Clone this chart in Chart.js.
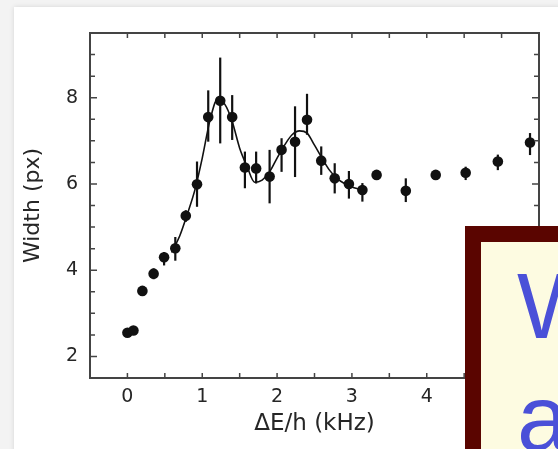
<!DOCTYPE html>
<html>
<head>
<meta charset="utf-8">
<script src="https://cdn.jsdelivr.net/npm/chart.js@4/dist/chart.umd.min.js"></script>
<style>
  html, body { margin: 0; padding: 0; }
  body { width: 558px; height: 449px; background: #f3f3f3; position: relative; overflow: hidden; }
  #panel { position: absolute; left: 14px; top: 7px; width: 600px; height: 500px; background: #fff;
           box-shadow: 0 0 5px rgba(0,0,0,0.12); }
  #c { position: absolute; left: 0; top: 0; filter: blur(0.45px); }
  #box { position: absolute; left: 465px; top: 226px; width: 200px; height: 300px;
         border: 16px solid #5a0500; background: #fdfbe1; overflow: hidden; box-sizing: content-box; }
  #box div { font-family: "Liberation Sans", Arial, sans-serif; font-size: 93px; line-height: 112px;
             color: #4a50d8; padding: 8px 0 0 36px; white-space: pre; }
</style>
</head>
<body>
<div id="panel"></div>
<canvas id="c" width="558" height="449"></canvas>
<div id="box"><div>W
a</div></div>
<script>
// ---- data ----
const energies = [0.0, 0.08, 0.2, 0.35, 0.49, 0.64, 0.78, 0.93, 1.08, 1.24, 1.40, 1.57, 1.72, 1.90, 2.06, 2.24, 2.40, 2.59, 2.77, 2.96, 3.14, 3.33, 3.72, 4.12, 4.52, 4.95, 5.38];
const widths   = [2.55, 2.6, 3.52, 3.92, 4.30, 4.51, 5.26, 5.99, 7.55, 7.93, 7.55, 6.38, 6.36, 6.17, 6.79, 6.98, 7.49, 6.54, 6.13, 6.0, 5.86, 6.21, 5.84, 6.21, 6.26, 6.52, 6.96];
const errUp    = [0, 0, 0, 0.12, 0.12, 0.26, 0.13, 0.53, 0.62, 1.0, 0.51, 0.37, 0.39, 0.62, 0.27, 0.82, 0.6, 0.33, 0.35, 0.3, 0.16, 0, 0.29, 0, 0.14, 0.16, 0.22];
const errDown  = [0, 0, 0, 0.13, 0.19, 0.29, 0.14, 0.52, 0.57, 0.99, 0.53, 0.48, 0.35, 0.62, 0.51, 0.82, 0.35, 0.33, 0.35, 0.34, 0.27, 0, 0.26, 0, 0.17, 0.2, 0.29];
const fitX = [0.59, 0.7, 0.8, 0.9, 1.0, 1.1, 1.2, 1.3, 1.4, 1.5, 1.6, 1.7, 1.8, 1.9, 2.0, 2.1, 2.2, 2.3, 2.4, 2.5, 2.6, 2.7, 2.8, 2.9, 3.0, 3.1];
const fitY = [4.41, 4.8, 5.3, 5.85, 6.6, 7.45, 7.95, 7.85, 7.45, 6.83, 6.4, 6.04, 6.09, 6.28, 6.6, 6.9, 7.14, 7.23, 7.18, 6.9, 6.6, 6.32, 6.13, 6.01, 5.93, 5.88];
const xTickLabels = [0, 1, 2, 3, 4, 5];
const yTickLabels = [2, 4, 6, 8];
const xTitle = 'ΔE/h (kHz)';
const yTitle = 'Width (px)';

const ink = '#111';
const textCol = '#262626';

const framePlugin = {
  id: 'frame',
  beforeDatasetsDraw(chart) {
    const ctx = chart.ctx;
    const xs = chart.scales.x, ys = chart.scales.y;
    ctx.save();
    ctx.strokeStyle = ink; ctx.lineWidth = 2.2;
    energies.forEach((e, i) => {
      if (!errUp[i] && !errDown[i]) return;
      const px = xs.getPixelForValue(e);
      ctx.beginPath();
      ctx.moveTo(px, ys.getPixelForValue(widths[i] + errUp[i]));
      ctx.lineTo(px, ys.getPixelForValue(widths[i] - errDown[i]));
      ctx.stroke();
    });
    ctx.restore();
  },
  afterDraw(chart) {
    const ctx = chart.ctx, a = chart.chartArea;
    const xs = chart.scales.x, ys = chart.scales.y;
    ctx.save();
    ctx.strokeStyle = '#444';
    ctx.lineWidth = 2;
    ctx.strokeRect(a.left, a.top, a.right - a.left, a.bottom - a.top);
    ctx.lineWidth = 1.5;
    xs.ticks.forEach(t => {
      const px = xs.getPixelForValue(t.value);
      if (px <= a.left + 1 || px >= a.right - 1) return;
      const L = 5;
      ctx.beginPath();
      ctx.moveTo(px, a.bottom); ctx.lineTo(px, a.bottom - L);
      ctx.moveTo(px, a.top); ctx.lineTo(px, a.top + L);
      ctx.stroke();
    });
    ys.ticks.forEach(t => {
      const py = ys.getPixelForValue(t.value);
      if (py <= a.top + 1 || py >= a.bottom - 1) return;
      const L = yTickLabels.includes(t.value) ? 7 : 5;
      ctx.beginPath();
      ctx.moveTo(a.left, py); ctx.lineTo(a.left + L, py);
      ctx.moveTo(a.right, py); ctx.lineTo(a.right - L, py);
      ctx.stroke();
    });
    ctx.restore();
  }
};

new Chart(document.getElementById('c'), {
  type: 'scatter',
  data: {
    datasets: [
      {
        type: 'line',
        data: fitX.map((x, i) => ({ x, y: fitY[i] })),
        borderColor: ink, borderWidth: 1.6, pointRadius: 0, cubicInterpolationMode: 'monotone', fill: false
      },
      {
        data: energies.map((x, i) => ({ x, y: widths[i] })),
        backgroundColor: ink, borderColor: ink, pointRadius: 5.3, borderWidth: 0
      }
    ]
  },
  options: {
    responsive: false,
    devicePixelRatio: 1,
    animation: false,
    events: [],
    layout: { padding: { left: 20, top: 33, right: 19, bottom: 0 } },
    plugins: { legend: { display: false }, tooltip: { enabled: false } },
    scales: {
      x: {
        type: 'linear', min: -0.5, max: 5.5,
        afterFit: s => { s.height = 71; },
        grid: { display: false, drawTicks: false },
        border: { display: false },
        ticks: {
          stepSize: 0.5, autoSkip: false, maxRotation: 0, padding: 8,
          color: textCol, font: { family: 'DejaVu Sans', size: 19 },
          callback: v => xTickLabels.includes(v) ? String(v) : ''
        },
        title: { display: true, text: xTitle, color: textCol, font: { family: 'DejaVu Sans', size: 23 }, padding: { top: 0, bottom: 11 } }
      },
      y: {
        type: 'linear', min: 1.5, max: 9.5,
        afterFit: s => { s.width = 70; },
        grid: { display: false, drawTicks: false },
        border: { display: false },
        ticks: {
          stepSize: 0.5, autoSkip: false, padding: 12,
          color: textCol, font: { family: 'DejaVu Sans', size: 19 },
          callback: v => yTickLabels.includes(v) ? String(v) : ''
        },
        title: { display: true, text: yTitle, color: textCol, font: { family: 'DejaVu Sans', size: 22 }, padding: { top: 0, bottom: 0 } }
      }
    }
  },
  plugins: [framePlugin]
});
</script>
</body>
</html>
